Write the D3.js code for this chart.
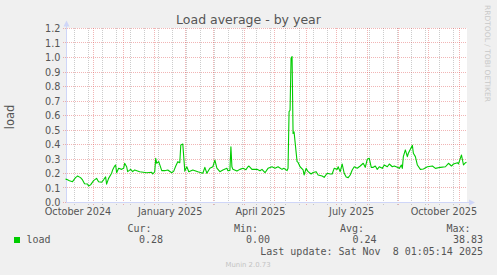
<!DOCTYPE html>
<html><head><meta charset="utf-8">
<script src="https://cdn.jsdelivr.net/npm/d3@7"></script>
<style>html,body{margin:0;padding:0;background:#F0F0F0;}svg{display:block;}</style>
</head><body>
<script>
// ---- data ----
const chartTitle = "Load average - by year";
const yAxisLabel = "load";
const rangeStart = new Date(2024, 9, 4, 1, 5, 14);
const rangeEnd = new Date(2025, 10, 8, 1, 5, 14);
const dayOffsets = [0,1,4,7,10,11,12,15,17,19,22,23,25,28,31,33,36,38,40,41,43,46,47,49,50,51,53,56,58,59,61,62,65,67,69,74,81,86,87,89,90,91,93,96,99,102,106,108,110,112,114,115,117,119,121,123,127,132,137,139,141,144,147,149,151,154,157,161,162,164,165,166,167,171,174,177,180,182,183,186,191,194,196,199,202,206,209,212,216,218,221,222,223,224,225,226,227,228,231,232,234,237,238,240,242,245,247,250,252,256,258,261,264,266,268,271,272,274,276,278,280,282,284,286,288,291,294,297,299,301,303,305,307,309,311,313,316,318,321,323,326,328,331,333,335,336,337,339,341,342,344,346,347,349,351,354,357,361,366,369,374,379,382,385,387,391,392,395,397,399,400];
const loadValues = [.165,.163,.154,.147,.175,.18,.186,.175,.159,.133,.131,.117,.125,.154,.17,.147,.143,.16,.18,.13,.17,.205,.228,.255,.262,.209,.239,.232,.239,.274,.25,.216,.232,.216,.228,.216,.209,.212,.2,.215,.308,.274,.285,.223,.223,.228,.209,.22,.255,.285,.278,.4,.407,.22,.25,.216,.228,.216,.205,.246,.205,.24,.25,.296,.24,.216,.228,.24,.222,.225,.388,.25,.232,.22,.232,.239,.23,.25,.255,.232,.232,.223,.232,.209,.239,.25,.24,.25,.232,.239,.223,.24,.63,.64,1.0,1.01,.48,.49,.285,.28,.25,.228,.193,.239,.216,.2,.21,.216,.193,.186,.177,.205,.2,.2,.239,.232,.25,.216,.269,.205,.18,.175,.193,.228,.25,.24,.255,.274,.246,.301,.308,.246,.246,.255,.232,.25,.239,.262,.25,.269,.25,.255,.246,.239,.262,.239,.32,.366,.32,.343,.37,.398,.343,.32,.262,.232,.235,.25,.255,.239,.246,.25,.274,.255,.269,.278,.27,.331,.262,.278,.28];
const yTickValues = [0,0.1,0.2,0.3,0.4,0.5,0.6,0.7,0.8,0.9,1.0,1.1,1.2];
const yTickLabels = ["0.0","0.1","0.2","0.3","0.4","0.5","0.6","0.7","0.8","0.9","1.0","1.1","1.2"];
const xLabelMonths = [new Date(2024,9,1), new Date(2025,0,1), new Date(2025,3,1), new Date(2025,6,1), new Date(2025,9,1)];
const xLabelTexts = ["October 2024","January 2025","April 2025","July 2025","October 2025"];
const minorGridFirst = new Date(2024, 9, 13);
const legendName = "load";
const legendHeaders = ["Cur:","Min:","Avg:","Max:"];
const legendValues = ["0.28","0.00","0.24","38.83"];
const lastUpdate = "Last update: Sat Nov  8 01:05:14 2025";
const footer = "Munin 2.0.73";
const watermark = "RRDTOOL / TOBI OETIKER";

// ---- layout ----
const W = 497, H = 275;
const svg = d3.select("body").append("svg").attr("width", W).attr("height", H);
svg.append("rect").attr("width", W).attr("height", H).attr("fill", "#F0F0F0");

const x = d3.scaleTime().domain([rangeStart, rangeEnd]).range([65.5, 466.5]);
const y = d3.scaleLinear().domain([0, 1.2]).range([203, 29]);
const sx = v => Math.floor(v) + 0.5;
const sy = v => Math.round(v) - 0.5;

// canvas
svg.append("rect").attr("x", 66).attr("y", 28).attr("width", 401).attr("height", 175).attr("fill", "#FFFFFF");

const FONT = "DejaVu Sans";
const MONO = "DejaVu Sans Mono";
const majorColor = "rgba(222,79,79,0.42)";
const minorColor = "rgba(143,143,143,0.45)";

// minor vertical grid (every 2 weeks)
const minor = d3.timeDay.range(minorGridFirst, rangeEnd, 14);
svg.append("g").selectAll("line").data(minor).join("line")
  .attr("x1", d => sx(x(d))).attr("x2", d => sx(x(d)))
  .attr("y1", 28).attr("y2", 206)
  .attr("stroke", minorColor).attr("stroke-dasharray", "1,1");

// major vertical grid (months)
const months = d3.timeMonth.range(rangeStart, rangeEnd);
svg.append("g").selectAll("line").data(months).join("line")
  .attr("x1", d => sx(x(d))).attr("x2", d => sx(x(d)))
  .attr("y1", 28).attr("y2", 206)
  .attr("stroke", majorColor).attr("stroke-dasharray", "1,1");

// horizontal grid
svg.append("g").selectAll("line").data(yTickValues).join("line")
  .attr("x1", 63).attr("x2", 467)
  .attr("y1", d => sy(y(d))).attr("y2", d => sy(y(d)))
  .attr("stroke", majorColor).attr("stroke-dasharray", "1,1");

// axes
const axisColor = "#CFD6F8";
svg.append("line").attr("x1", 66.5).attr("x2", 66.5).attr("y1", 203).attr("y2", 24).attr("stroke", axisColor);
svg.append("line").attr("x1", 66).attr("x2", 470).attr("y1", 202.5).attr("y2", 202.5).attr("stroke", axisColor);
svg.append("path").attr("d", "M63.5,26.5L69.5,26.5L66.5,20.5Z").attr("fill", axisColor);
svg.append("path").attr("d", "M469,199.5L469,205.5L475,202.5Z").attr("fill", axisColor);

// series line
const pts = dayOffsets.map((d, i) => ({date: d3.timeHour.offset(rangeStart, d * 24), v: loadValues[i]}));
svg.append("path").datum(pts)
  .attr("fill", "none").attr("stroke", "#00CC00").attr("stroke-width", 1.1)
  .attr("stroke-linejoin", "round")
  .attr("d", d3.line().x(d => x(d.date)).y(d => y(d.v)));

// y tick labels
svg.append("g").selectAll("text").data(yTickValues).join("text")
  .attr("x", 60.5).attr("y", d => y(d)).attr("dy", "0.36em")
  .attr("text-anchor", "end").attr("font-family", FONT).attr("font-size", 9.7)
  .attr("fill", "#555").text((d, i) => yTickLabels[i]);

// x labels (centered mid-month)
svg.append("g").selectAll("text").data(xLabelMonths).join("text")
  .attr("x", d => x(d3.timeHour.offset(d, 372))).attr("y", 215)
  .attr("text-anchor", "middle").attr("font-family", FONT).attr("font-size", 9.7)
  .attr("fill", "#555").text((d, i) => xLabelTexts[i]);

// title
svg.append("text").attr("x", 248.5).attr("y", 24).attr("text-anchor", "middle")
  .attr("font-family", FONT).attr("font-size", 12.5).attr("fill", "#555").text(chartTitle);

// y axis label
svg.append("text").attr("transform", "translate(14,117) rotate(-90)")
  .attr("text-anchor", "middle").attr("font-family", FONT).attr("font-size", 11.5)
  .attr("fill", "#555").text(yAxisLabel);

// watermark
svg.append("text").attr("transform", "translate(485,5) rotate(90)")
  .attr("font-family", FONT).attr("font-size", 7.4).attr("fill", "#C8C8C8")
  .attr("textLength", 97).attr("lengthAdjust", "spacingAndGlyphs").text(watermark);

// legend
const hdrX = [127.5, 234, 340, 446.5];
svg.append("g").selectAll("text").data(legendHeaders).join("text")
  .attr("x", (d, i) => hdrX[i]).attr("y", 231.5)
  .attr("font-family", MONO).attr("font-size", 10).attr("fill", "#555").text(d => d);
const valEnd = [163, 270, 376.5, 483];
svg.append("g").selectAll("text").data(legendValues).join("text")
  .attr("x", (d, i) => valEnd[i]).attr("y", 243).attr("text-anchor", "end")
  .attr("font-family", MONO).attr("font-size", 10).attr("fill", "#555").text(d => d);
svg.append("rect").attr("x", 14).attr("y", 237).attr("width", 6).attr("height", 6).attr("fill", "#00CC00");
svg.append("text").attr("x", 26.5).attr("y", 243)
  .attr("font-family", MONO).attr("font-size", 10).attr("fill", "#555").text(legendName);
svg.append("text").attr("x", 483).attr("y", 255).attr("text-anchor", "end").attr("xml:space", "preserve")
  .style("white-space", "pre")
  .attr("font-family", MONO).attr("font-size", 10).attr("fill", "#555").text(lastUpdate);
svg.append("text").attr("x", 248).attr("y", 266.5).attr("text-anchor", "middle")
  .attr("font-family", FONT).attr("font-size", 6.9).attr("fill", "#C4C4C4").text(footer);
</script>
</body></html>
